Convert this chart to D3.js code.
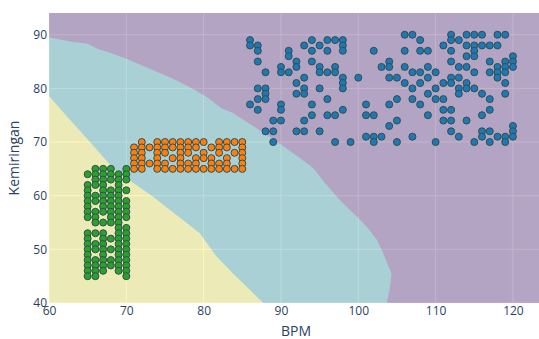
<!DOCTYPE html>
<html>
<head>
<meta charset="utf-8">
<script src="https://cdn.jsdelivr.net/npm/d3@7"></script>
<style>
	body { margin: 0; background: #fff; }
	text { font-family: "Open Sans", sans-serif; fill: #2a3f5f; }
</style>
</head>
<body>
<svg id="chart"></svg>
<script>
let xTicks = [60, 70, 80, 90, 100, 110, 120];
let yTicks = [40, 50, 60, 70, 80, 90];

// boundary purple / teal  [bpm, kemiringan]
let upperBoundary = [
	[60, 89.5], [63, 88.7], [65, 88.3], [66.4, 87.3], [68, 86.6], [70, 85.5],
	[72.8, 83.8], [75.9, 81.9], [78.9, 79.7], [80.6, 78.2], [82.3, 76.3],
	[83.8, 75.4], [88.2, 71.3], [91.6, 67.9], [94.2, 65.1], [95.7, 62.3],
	[97.6, 59.2], [99.8, 56.1], [101.1, 54.2], [102.4, 51.8], [103.2, 49.3],
	[104.3, 45.5], [104.1, 43], [103.7, 40]
];

// boundary teal / yellow
let lowerBoundary = [
	[60, 78.6], [62.5, 74.5], [65.3, 70], [68.5, 64.8], [73.3, 60],
	[79.5, 53], [81.7, 48.6], [83.8, 45.5], [86, 42.4], [87.7, 40]
];

// green class: [bpm, [kemiringan...]]
let greenCols = [
	[65, [64, 62, 61, 60, 59, 58, 57, 56, 53, 52, 51, 50, 49, 48, 47, 46, 45]],
	[66, [65, 64, 63, 62, 60, 59, 57, 56, 55, 53, 51, 50, 48, 47, 46, 45]],
	[67, [65, 64, 63, 62, 61, 60, 59, 58, 57, 55, 53, 52, 51, 50, 49, 48, 47, 46]],
	[68, [65, 64, 63, 61, 60, 59, 58, 57, 56, 55, 52, 50, 48, 47]],
	[69, [64, 63, 62, 61, 60, 59, 58, 57, 56, 55, 54, 53, 52, 51, 50, 49, 48, 47, 46]],
	[70, [65, 64, 63, 61, 59, 58, 57, 56, 54, 53, 52, 51, 50, 49, 48, 47, 46, 45]]
];

// orange class: [kemiringan, [bpm...]]
let orangeRows = [
	[70, [72, 74, 75, 76, 77, 78, 79, 80, 82, 83, 84, 85]],
	[69, [71, 72, 73, 74, 75, 76, 77, 78, 79, 81, 82, 83, 85]],
	[68, [71, 72, 74, 75, 77, 78, 80, 82, 84, 85]],
	[67, [71, 72, 74, 76, 77, 79, 80, 81, 83, 85]],
	[66, [71, 72, 73, 74, 75, 77, 78, 79, 81, 82, 83, 85]],
	[65, [71, 72, 74, 75, 76, 77, 78, 79, 80, 81, 82, 83, 84, 85]]
];

// blue class: [kemiringan, [bpm...]]
let blueRows = [
	[90, [106, 107, 112, 114, 115, 116, 118, 119]],
	[89, [86, 94, 96, 97, 98, 108, 112, 113]],
	[88, [86, 87, 93, 95, 98, 111, 114, 115, 116, 117, 118]],
	[87, [87, 91, 94, 96, 98, 102, 106, 108, 109, 112, 115]],
	[86, [91, 114, 115, 120]],
	[85, [87, 92, 94, 104, 112, 117, 119, 120]],
	[84, [90, 92, 95, 97, 103, 104, 106, 109, 113, 114, 118, 119, 120]],
	[83, [88, 90, 91, 95, 96, 97, 107, 108, 110, 115, 117, 118, 119]],
	[82, [93, 98, 100, 104, 105, 109, 112, 113, 118]],
	[81, [92, 98, 106, 108, 111, 112, 114, 119]],
	[80, [87, 88, 93, 95, 98, 107, 110, 113, 114, 115]],
	[79, [88, 92, 93, 109, 113, 116, 119]],
	[78, [87, 88, 96, 105, 107, 110, 111, 117]],
	[77, [86, 90, 94, 101, 104, 108]],
	[76, [87, 90, 98, 111, 112, 117]],
	[75, [94, 96, 97, 101, 102, 109, 116]],
	[74, [89, 90, 93, 105, 111, 112, 114]],
	[73, [104, 120]],
	[72, [88, 89, 92, 93, 95, 112, 116, 117, 120]],
	[71, [101, 102, 103, 107, 113, 116, 118, 119, 120]],
	[70, [89, 97, 99, 102, 105, 110, 115, 117, 119]]
];

function makeChart() {
	let w = 539;
	let h = 339;
	let marginT = 13;
	let marginL = 49;
	let marginR = 0;
	let marginB = 36;

	let chart = d3.select('#chart')
		.attr('width', w)
		.attr('height', h);

	let xScale = d3.scaleLinear()
		.domain([60, 123.37])
		.range([marginL, w - marginR]);

	let yScale = d3.scaleLinear()
		.domain([40, 94.05])
		.range([h - marginB, marginT]);

	let [x0, x1] = xScale.domain();
	let [y0, y1] = yScale.domain();

	chart.append('defs').append('clipPath')
		.attr('id', 'plotclip')
		.append('rect')
		.attr('x', marginL)
		.attr('y', marginT)
		.attr('width', w - marginR - marginL)
		.attr('height', h - marginB - marginT);

	//background
	chart.append('rect')
		.attr('x', marginL)
		.attr('y', marginT)
		.attr('width', w - marginR - marginL)
		.attr('height', h - marginB - marginT)
		.style('fill', '#E5ECF6');

	//grid
	chart.selectAll('.gridx')
		.data(xTicks)
		.enter()
		.append('line')
		.attr('x1', d => xScale(d))
		.attr('x2', d => xScale(d))
		.attr('y1', yScale(y0))
		.attr('y2', yScale(y1))
		.style('stroke', '#fff')
		.style('stroke-width', 1);

	chart.selectAll('.gridy')
		.data(yTicks)
		.enter()
		.append('line')
		.attr('x1', xScale(x0))
		.attr('x2', xScale(x1))
		.attr('y1', d => yScale(d))
		.attr('y2', d => yScale(d))
		.style('stroke', '#fff')
		.style('stroke-width', 1);

	//decision regions
	let line = d3.line()
		.x(d => xScale(d[0]))
		.y(d => yScale(d[1]));

	let regions = chart.append('g')
		.attr('clip-path', 'url(#plotclip)')
		.attr('opacity', 0.3);

	regions.append('path')
		.attr('d', line([[x0, y1], [x1, y1], [x1, y0], [x0, y0]]) + 'Z')
		.style('fill', '#440154');

	regions.append('path')
		.attr('d', line(upperBoundary.concat([[x0, y0]])) + 'Z')
		.style('fill', '#21918c');

	regions.append('path')
		.attr('d', line(lowerBoundary.concat([[x0, y0]])) + 'Z')
		.style('fill', '#fde725');

	//points
	let green = greenCols.flatMap(c => c[1].map(v => [c[0], v]));
	let orange = orangeRows.flatMap(r => r[1].map(v => [v, r[0]]));
	let blue = blueRows.flatMap(r => r[1].map(v => [v, r[0]]));

	let groups = [[blue, '#1f77b4'], [orange, '#ff7f0e'], [green, '#2ca02c']];
	groups.forEach(g => {
		chart.append('g')
			.selectAll('circle')
			.data(g[0])
			.enter()
			.append('circle')
			.attr('cx', d => xScale(d[0]))
			.attr('cy', d => yScale(d[1]))
			.attr('r', 3.5)
			.style('fill', g[1])
			.style('stroke', '#2F4F4F')
			.style('stroke-width', 1);
	});

	//AXES
	let xAxis = d3.axisBottom(xScale).tickValues(xTicks).tickSize(0).tickPadding(3);
	let yAxis = d3.axisLeft(yScale).tickValues(yTicks).tickSize(0).tickPadding(2);

	let gx = chart.append('g')
		.attr('transform', `translate(0, ${h - marginB})`)
		.call(xAxis);
	let gy = chart.append('g')
		.attr('transform', `translate(${marginL}, 0)`)
		.call(yAxis);

	[gx, gy].forEach(g => {
		g.select('.domain').remove();
		g.selectAll('text')
			.style('font-size', '12px')
			.style('fill', '#2a3f5f')
			.attr('font-family', null);
	});

	//LABELS
	chart.append('text')
		.attr('x', 296)
		.attr('y', 336)
		.style('text-anchor', 'middle')
		.style('font-size', '14px')
		.text('BPM');

	chart.append('text')
		.attr('transform', `translate(14, ${(marginT + h - marginB) / 2}) rotate(-90)`)
		.attr('dy', '0.35em')
		.style('text-anchor', 'middle')
		.style('font-size', '14px')
		.text('Kemiringan');
}

window.onload = function () {
	makeChart();
}
</script>
</body>
</html>
